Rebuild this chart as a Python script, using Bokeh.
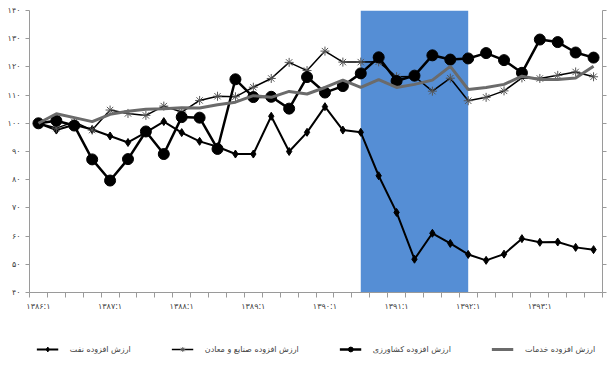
from bokeh.plotting import figure
from bokeh.layouts import column
from bokeh.models import (ColumnDataSource, BoxAnnotation, LinearAxis, FixedTicker,
                          Legend, LegendItem, Range1d)
from bokeh.embed import file_html
from bokeh.resources import INLINE

quarters = [
    "۱۳۸۶:۱", "۱۳۸۶:۲", "۱۳۸۶:۳", "۱۳۸۶:۴",
    "۱۳۸۷:۱", "۱۳۸۷:۲", "۱۳۸۷:۳", "۱۳۸۷:۴",
    "۱۳۸۸:۱", "۱۳۸۸:۲", "۱۳۸۸:۳", "۱۳۸۸:۴",
    "۱۳۸۹:۱", "۱۳۸۹:۲", "۱۳۸۹:۳", "۱۳۸۹:۴",
    "۱۳۹۰:۱", "۱۳۹۰:۲", "۱۳۹۰:۳", "۱۳۹۰:۴",
    "۱۳۹۱:۱", "۱۳۹۱:۲", "۱۳۹۱:۳", "۱۳۹۱:۴",
    "۱۳۹۲:۱", "۱۳۹۲:۲", "۱۳۹۲:۳", "۱۳۹۲:۴",
    "۱۳۹۳:۱", "۱۳۹۳:۲", "۱۳۹۳:۳", "۱۳۹۳:۴",
]
labeled_quarters = ["۱۳۸۶:۱", "۱۳۸۷:۱", "۱۳۸۸:۱", "۱۳۸۹:۱",
                    "۱۳۹۰:۱", "۱۳۹۱:۱", "۱۳۹۲:۱", "۱۳۹۳:۱"]

oil = [100, 97.6, 99.5, 97.8, 95.5, 93.2, 96.8, 100.6, 96.7, 93.6, 91.7, 89.1,
       89.1, 102.5, 90.0, 96.8, 105.9, 97.6, 96.8, 81.4, 68.4, 51.8, 61.0, 57.4,
       53.5, 51.4, 53.6, 59.1, 57.8, 57.9, 56.0, 55.2]
industry = [100, 98.3, 100.5, 97.6, 104.7, 103.5, 102.8, 106.1, 104.0, 108.1, 109.6, 109.4,
            112.8, 115.9, 121.6, 118.7, 125.6, 121.7, 121.7, 121.8, 116.5, 116.6, 111.4, 116.0,
            108.0, 109.2, 111.5, 116.1, 115.9, 117.0, 118.2, 116.5]
agriculture = [100, 100.9, 99.2, 87.2, 79.7, 87.3, 97.1, 89.1, 102.2, 102.0, 90.9, 115.6,
               109.3, 109.4, 105.2, 116.4, 110.9, 113.2, 117.7, 123.4, 115.0, 116.9, 124.1, 122.6,
               123.0, 124.9, 122.4, 117.9, 129.7, 128.8, 125.1, 123.3]
services = [100, 103.4, 102.0, 100.6, 103.2, 104.3, 105.0, 105.2, 105.5, 105.4, 106.6, 107.5,
            109.8, 109.2, 111.3, 110.4, 112.7, 115.3, 112.7, 115.5, 112.7, 113.8, 115.3, 120.2,
            112.0, 112.7, 113.8, 116.7, 115.5, 115.5, 116.1, 120.2]

y_ticks = [40, 50, 60, 70, 80, 90, 100, 110, 120, 130, 140]
y_tick_labels = ["۴۰", "۵۰", "۶۰", "۷۰", "۸۰", "۹۰", "۱۰۰", "۱۱۰", "۱۲۰", "۱۳۰", "۱۴۰"]

shade_start = "۱۳۹۰:۳"
shade_end = "۱۳۹۲:۱"

series_names = {
    "oil": "ارزش افزوده نفت",
    "industry": "ارزش افزوده صنایع و معادن",
    "agriculture": "ارزش افزوده کشاورزی",
    "services": "ارزش افزوده خدمات",
}

idx = list(range(len(quarters)))
src = ColumnDataSource(dict(x=idx, oil=oil, industry=industry,
                            agriculture=agriculture, services=services))

FONT = "DejaVu Sans"
AXIS_COLOR = "#9a9a9a"
TEXT_COLOR = "#404040"

STYLES = {
    "oil": dict(line=dict(line_color="black", line_width=2),
                marker=dict(marker="diamond", size=8, fill_color="black", line_color="black")),
    "industry": dict(line=dict(line_color="black", line_width=1.5),
                     marker=dict(marker="asterisk", size=9, line_color="#555555", line_width=1)),
    "agriculture": dict(line=dict(line_color="black", line_width=2.5),
                        marker=dict(marker="circle", size=11, fill_color="black",
                                    line_color="black")),
    "services": dict(line=dict(line_color="#6b6b6b", line_width=3), marker=None),
}
order = ["oil", "industry", "agriculture", "services"]

p = figure(width=608, height=322, x_range=Range1d(-0.5, len(quarters) - 0.5),
           y_range=Range1d(40, 140), output_backend="svg", toolbar_location=None,
           min_border_left=29, min_border_right=6, min_border_top=10, min_border_bottom=30)
p.outline_line_color = None
p.grid.visible = False

# shaded band
p.add_layout(BoxAnnotation(left=quarters.index(shade_start), right=quarters.index(shade_end),
                           fill_color="#558ED5", fill_alpha=1.0, line_color=None,
                           level="underlay"))

# x axis
xax = p.xaxis[0]
xax.ticker = FixedTicker(ticks=[quarters.index(q) for q in labeled_quarters],
                         minor_ticks=[i - 0.5 for i in range(len(quarters) + 1)])
xax.major_label_overrides = {quarters.index(q): q for q in labeled_quarters}
xax.major_tick_line_color = None
xax.minor_tick_in = 0
xax.minor_tick_out = 5
xax.minor_tick_line_color = AXIS_COLOR
xax.axis_line_color = AXIS_COLOR
xax.major_label_text_font = FONT
xax.major_label_text_font_size = "8px"
xax.major_label_text_color = TEXT_COLOR
xax.major_label_standoff = 3

# left y axis
yax = p.yaxis[0]
yax.ticker = FixedTicker(ticks=y_ticks)
yax.major_label_overrides = dict(zip(y_ticks, y_tick_labels))
yax.minor_tick_line_color = None
yax.major_tick_in = 0
yax.major_tick_out = 4
yax.major_tick_line_color = AXIS_COLOR
yax.axis_line_color = AXIS_COLOR
yax.major_label_text_font = FONT
yax.major_label_text_font_size = "8px"
yax.major_label_text_color = TEXT_COLOR
yax.major_label_standoff = 5

# right y axis (ticks only)
rax = LinearAxis(ticker=FixedTicker(ticks=y_ticks), major_label_text_alpha=0,
                 major_label_text_font_size="1px",
                 major_label_standoff=0, major_tick_in=0, major_tick_out=4,
                 major_tick_line_color=AXIS_COLOR, axis_line_color=AXIS_COLOR,
                 minor_tick_line_color=None)
p.add_layout(rax, "right")

# series
for key in order:
    st = STYLES[key]
    p.line("x", key, source=src, **st["line"])
    if st["marker"]:
        p.scatter("x", key, source=src, **st["marker"])

# legend strip: same series drawn with a y range that keeps them out of view,
# only their legend samples show
lg = figure(width=608, height=54, x_range=Range1d(0, 1), y_range=Range1d(0, 1),
            output_backend="svg", toolbar_location=None,
            min_border_left=0, min_border_right=0, min_border_top=0, min_border_bottom=0)
lg.outline_line_color = None
lg.axis.visible = False
lg.grid.visible = False
items = []
for key in order:
    st = STYLES[key]
    rs = [lg.line("x", key, source=src, **st["line"])]
    if st["marker"]:
        rs.append(lg.scatter("x", key, source=src, **st["marker"]))
    items.append(LegendItem(label=series_names[key], renderers=rs))

legend = Legend(items=items, orientation="horizontal", location="center",
                border_line_color=None, background_fill_alpha=0,
                label_text_font=FONT, label_text_font_size="8px",
                label_text_color=TEXT_COLOR, glyph_width=22, glyph_height=12,
                label_standoff=12, spacing=40, margin=0, padding=0)
lg.add_layout(legend, "center")

layout = column(p, lg, spacing=0)
open("out.html", "w").write(file_html(layout, INLINE))
